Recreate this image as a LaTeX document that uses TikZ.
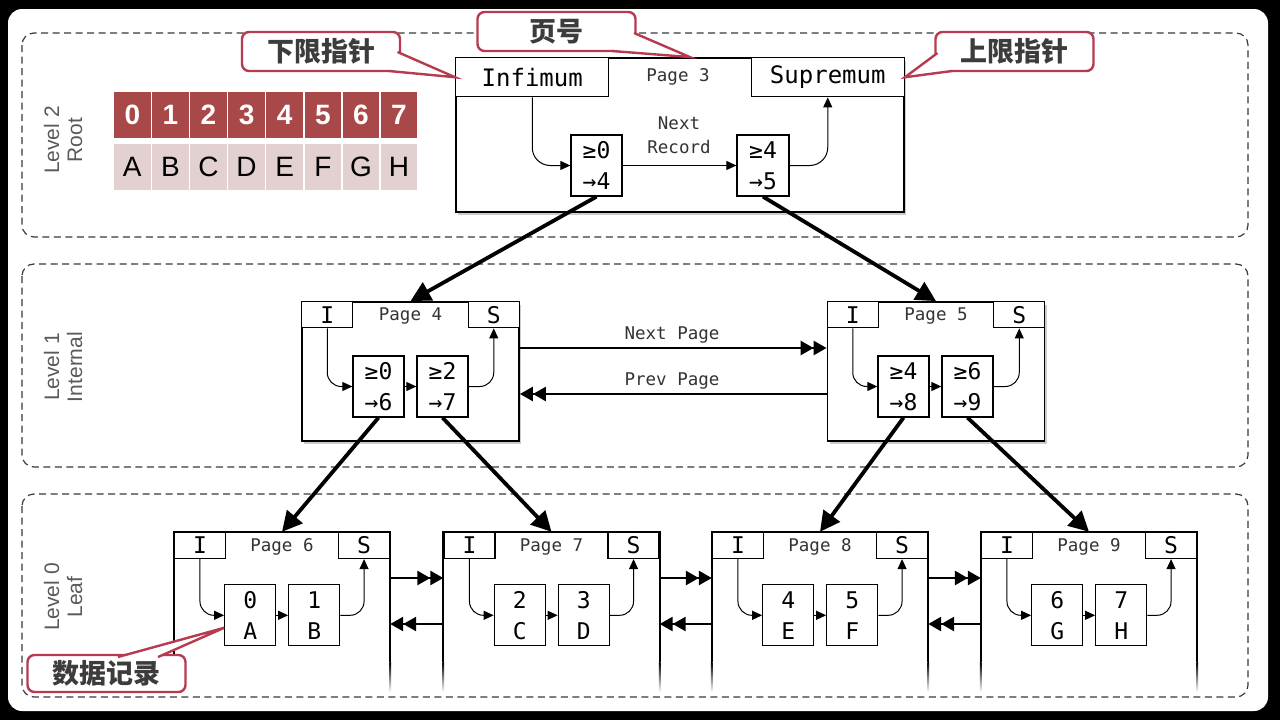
\documentclass[tikz,border=0pt]{standalone}
\usepackage{fontspec}
\newfontfamily\mono{DejaVu Sans Mono}
\newfontfamily\sans{Liberation Sans}
\newfontfamily\cjk{Noto Sans CJK SC}
\usetikzlibrary{arrows.meta,calc,shadows}
\definecolor{tabdark}{HTML}{A94848}
\definecolor{tablight}{HTML}{E3D0D0}
\definecolor{calloutred}{HTML}{B83A4E}
\definecolor{callouttext}{HTML}{3C3C3C}
\definecolor{levelgray}{HTML}{5A5A5A}
\definecolor{dashgray}{HTML}{3A3A3A}

\begin{document}
\begin{tikzpicture}[x=1pt,y=-1pt,
  levelbox/.style={draw=dashgray, line width=1.2pt, dash pattern=on 7pt off 4.5pt, rounded corners=12pt},
  levellabel/.style={rotate=90, align=center, text=levelgray, font=\sans\fontsize{21}{23}\selectfont},
  pagebox/.style={draw, line width=1.8pt, fill=white, inner sep=0pt,
    drop shadow={opacity=0.4, shadow xshift=2pt, shadow yshift=-2.5pt}},
  leafpage/.style={inner sep=0pt, minimum width=216pt, minimum height=160pt},
  bighdr/.style={draw, line width=1.3pt, fill=white, inner sep=0pt, minimum width=153pt,
    minimum height=39pt, font=\mono\fontsize{24}{28}\selectfont},
  hdr/.style={draw, line width=1.3pt, fill=white, inner sep=0pt, minimum width=51pt,
    minimum height=26pt, font=\mono\fontsize{23}{26}\selectfont},
  pagelabel/.style={font=\mono\fontsize{17.5}{24}\selectfont, text=black!80, align=center},
  rec/.style={draw, line width=1.3pt, fill=white, inner sep=0pt, minimum width=51pt,
    minimum height=61pt, align=center, font=\mono\fontsize{23}{31}\selectfont},
  link/.style={line width=1pt, -{Triangle[length=10pt,width=9pt]}},
  child/.style={line width=3.8pt, -{Triangle[length=20pt,width=20pt]}},
  sibling/.style={line width=2.6pt, -{Triangle[length=13pt,width=14pt] Triangle[length=13pt,width=14pt]}},
  tabtop/.style={fill=tabdark, text=white, minimum width=36.6pt, minimum height=46pt, inner sep=0pt,
    font=\sans\bfseries\fontsize{28}{30}\selectfont},
  tabbot/.style={fill=tablight, text=black, minimum width=36.6pt, minimum height=46pt, inner sep=0pt,
    font=\sans\fontsize{28}{30}\selectfont},
  callout/.style={draw=calloutred, line width=2.4pt, fill=white, rounded corners=7pt,
    minimum width=158pt, minimum height=39pt, inner sep=0pt, text=callouttext,
    font=\cjk\bfseries\fontsize{27}{30}\selectfont},
  calloutline/.style={draw=calloutred, line width=2.4pt, line join=miter}
]
% frame
\fill[black] (0,0) rectangle (1280,720);
\fill[white, rounded corners=14pt] (8,9) rectangle (1268,711);

% level bands
\draw[levelbox] (22,33) rectangle (1248,237);
\draw[levelbox] (22,264) rectangle (1248,467);
\draw[levelbox] (22,494) rectangle (1248,697);
\node[levellabel] (lv2) at (63,140) {Level 2\\Root};
\node[levellabel] (lv1) at (63,367) {Level 1\\Internal};
\node[levellabel] (lv0) at (63,597) {Level 0\\Leaf};

% key / value table
\foreach \n/\l [count=\k from 0] in {0/A,1/B,2/C,3/D,4/E,5/F,6/G,7/H} {
  \node[tabtop] (key\k) at (132.3+38.1*\k,115) {\n};
  \node[tabbot] (val\k) at (132.3+38.1*\k,167) {\l};
}

% ---------- Level 2: page 3 ----------
\node[pagebox, minimum width=448pt, minimum height=154pt] (p3) at (680,135) {};
\node[bighdr, anchor=north west] (inf3) at (p3.north west) {Infimum};
\node[bighdr, anchor=north east] (sup3) at (p3.north east) {Supremum};
\node[pagelabel] (t3) at ($(p3.north)+(-2,20)$) {Page 3};
\node[rec] (r3a) at (596.5,165.5) {≥0\\→4};
\node[rec, minimum width=52pt] (r3b) at (763,165.5) {≥4\\→5};
\node[pagelabel] (nr3) at (679,135) {Next\\Record};
\draw[link] (r3a) -- (r3b);
\draw[link, rounded corners=18pt] (inf3.south) |- (r3a.west);
\draw[link, rounded corners=18pt] (r3b.east) -| (sup3.south);

% ---------- Level 1: pages 4 and 5 ----------
\node[pagebox, minimum width=217pt, minimum height=139pt] (p4) at (410.5,371.5) {};
\node[hdr, anchor=north west] (i4) at (p4.north west) {I};
\node[hdr, anchor=north east] (s4) at (p4.north east) {S};
\node[pagelabel] (t4) at ($(p4.north)+(0,15)$) {Page 4};
\node[rec] (r4a) at (378.5,386.5) {≥0\\→6};
\node[rec] (r4b) at (442.5,386.5) {≥2\\→7};
\draw[link] (r4a) -- (r4b);
\draw[link, rounded corners=14pt] (i4.south) |- (r4a.west);
\draw[link, rounded corners=14pt] (r4b.east) -| (s4.south);

\node[pagebox, minimum width=217pt, minimum height=139pt] (p5) at (936,371.5) {};
\node[hdr, anchor=north west] (i5) at (p5.north west) {I};
\node[hdr, anchor=north east] (s5) at (p5.north east) {S};
\node[pagelabel] (t5) at ($(p5.north)+(0,15)$) {Page 5};
\node[rec] (r5a) at (903.5,386.5) {≥4\\→8};
\node[rec] (r5b) at (967.5,386.5) {≥6\\→9};
\draw[link] (r5a) -- (r5b);
\draw[link, rounded corners=14pt] (i5.south) |- (r5a.west);
\draw[link, rounded corners=14pt] (r5b.east) -| (s5.south);

\draw[sibling] ($(p4.east)+(0,-23.5)$) -- ($(p5.west)+(0,-23.5)$);
\draw[sibling] ($(p5.west)+(0,22.5)$) -- ($(p4.east)+(0,22.5)$);
\node[pagelabel] (np) at (672,335) {Next Page};
\node[pagelabel] (pp) at (672,381) {Prev Page};

% ---------- Level 0: leaf pages 6 to 9 ----------
\foreach \p/\cx/\ka/\va/\kb/\vb in {6/282/0/A/1/B, 7/551.5/2/C/3/D, 8/820/4/E/5/F, 9/1089/6/G/7/H} {
  \node[leafpage] (p\p) at (\cx,612) {};
  \fill[white] (p\p.north west) rectangle ($(p\p.south east)+(0,-30)$);
  \draw[line width=1.8pt] ($(p\p.south west)+(0,-30)$) -- (p\p.north west) -- (p\p.north east) -- ($(p\p.south east)+(0,-30)$);
  \shade[top color=black, bottom color=white] ($(p\p.south west)+(-0.9,-30)$) rectangle ($(p\p.south west)+(0.9,0)$);
  \shade[top color=black, bottom color=white] ($(p\p.south east)+(-0.9,-30)$) rectangle ($(p\p.south east)+(0.9,0)$);
  \node[hdr, anchor=north west] (i\p) at (p\p.north west) {I};
  \node[hdr, anchor=north east] (s\p) at (p\p.north east) {S};
  \node[pagelabel] (t\p) at ($(p\p.north)+(0,15)$) {Page \p};
  \node[rec] (r\p a) at ($(p\p.north west)+(76.5,83.5)$) {\ka\\\va};
  \node[rec] (r\p b) at ($(p\p.north west)+(140.5,83.5)$) {\kb\\\vb};
  \draw[link] (r\p a) -- (r\p b);
  \draw[link, rounded corners=14pt] (i\p.south) |- (r\p a.west);
  \draw[link, rounded corners=14pt] (r\p b.east) -| (s\p.south);
}
\foreach \a/\b in {6/7,7/8,8/9} {
  \draw[sibling] ($(p\a.east)+(0,-34)$) -- ($(p\b.west)+(0,-34)$);
  \draw[sibling] ($(p\b.west)+(0,12)$) -- ($(p\a.east)+(0,12)$);
}

% ---------- child pointers ----------
\draw[child] (r3a.south) -- (p4.north);
\draw[child] (r3b.south) -- (p5.north);
\draw[child] (r4a.south) -- (p6.north);
\draw[child] (r4b.south) -- (p7.north);
\draw[child] (r5a.south) -- (p8.north);
\draw[child] (r5b.south) -- (p9.north);

% ---------- callouts ----------
\node[callout] (cinf) at (321,51.5) {下限指针};
\filldraw[calloutline, fill=white] (397.5,52) -- (inf3.west) -- (389,71);

\node[callout] (cpage) at (556.5,31.5) {页号};
\filldraw[calloutline, fill=white] (634,33) -- ($(p3.north)+(10,0)$) -- (612,51);

\node[callout] (csup) at (1014.5,51.5) {上限指针};
\filldraw[calloutline, fill=white] (937.5,53) -- (sup3.east) -- (952,71);

\node[callout, minimum height=37pt] (crec) at (106.5,673.5) {数据记录};
\filldraw[calloutline, fill=white] (118,657) -- ($(r6a.west)+(0,12.5)$) -- (158,657);
\end{tikzpicture}
\end{document}
